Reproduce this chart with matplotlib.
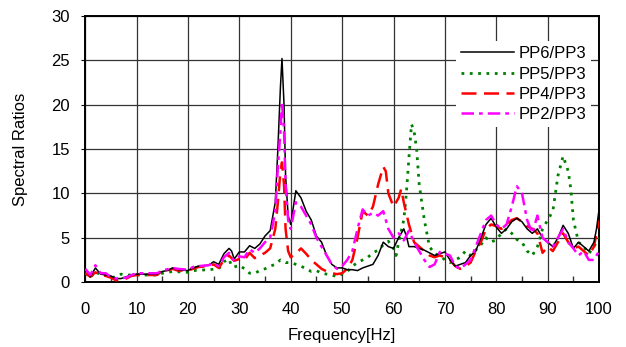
import matplotlib
matplotlib.use("Agg")
import matplotlib.pyplot as plt
from matplotlib.ticker import MultipleLocator

plt.rcParams['font.family'] = ['Liberation Sans', 'DejaVu Sans']

# ---------------------------------------------
# DATA
# ---------------------------------------------
f_pp6 = [0, 0.5, 1, 2, 3, 4, 5, 6, 7, 8, 9, 10, 12, 14, 15, 16, 17, 18, 20, 21, 22, 24, 25, 26,
         27, 28, 28.5, 29, 30, 31, 32, 33, 34, 35, 36, 37, 37.5, 38, 38.3, 38.7, 39, 39.5, 40,
         41, 42, 43, 44, 45, 46, 47, 48, 49, 50, 51, 52, 53, 54, 55, 56, 57, 58, 59, 60, 61,
         62, 62.5, 63, 64, 65, 66, 67, 68, 69, 70, 71, 72, 73, 74, 75, 76, 77, 78, 79, 80, 81,
         82, 83, 84, 85, 86, 87, 88, 89, 90, 91, 92, 93, 94, 95, 96, 97, 98, 99, 99.5, 100]
v_pp6 = [1.5, 1.2, 0.6, 1.6, 0.9, 0.8, 0.7, 0.4, 0.4, 0.6, 0.8, 0.9, 0.9, 0.9, 1.2, 1.3, 1.6, 1.4,
         1.3, 1.6, 1.8, 1.9, 2.3, 2.0, 3.2, 3.8, 3.5, 2.6, 3.4, 3.4, 4.1, 3.8, 4.3, 5.2, 5.8, 9.0,
         15.0, 22.0, 25.2, 20.0, 12.0, 7.5, 6.5, 10.3, 9.5, 8.0, 7.0, 5.2, 4.5, 3.0, 2.0, 1.6,
         1.6, 1.4, 1.4, 1.3, 1.6, 1.8, 2.0, 3.0, 4.5, 4.0, 3.8, 5.0, 6.0, 5.2, 4.0, 4.0, 3.8,
         3.6, 3.3, 3.0, 3.2, 3.4, 2.5, 1.8, 2.0, 2.2, 3.0, 3.5, 5.0, 6.5, 7.2, 6.2, 5.5, 6.0,
         6.8, 7.2, 6.8, 6.0, 5.5, 6.0, 5.0, 4.5, 4.0, 5.0, 6.4, 5.5, 3.8, 4.5, 4.0, 3.5, 4.5,
         6.0, 8.2]

f_pp5 = [0, 1, 2, 3, 4, 5, 6, 7, 8, 10, 14, 15, 17, 20, 21, 24, 26, 27, 28, 28.5, 29, 30, 31,
         32, 33, 34, 35, 36, 37, 38, 39, 40, 41, 42, 43, 44, 45, 46, 48, 49, 50, 51, 52, 53,
         54, 55, 56, 57, 58, 59, 60, 60.5, 61, 62, 62.5, 63, 63.5, 64, 64.5, 65, 66, 67, 68,
         69, 70, 71, 72, 73, 74, 75, 76, 77, 78, 79, 80, 81, 82, 83, 84, 85, 86, 87, 88, 89,
         90, 91, 92, 93, 94, 94.5, 95, 96, 97, 98, 99, 100]
v_pp5 = [1.0, 0.5, 1.2, 0.8, 0.8, 0.5, 0.6, 0.9, 0.8, 0.8, 0.8, 1.0, 1.2, 1.1, 1.3, 1.4, 1.5,
         2.3, 2.6, 1.8, 1.7, 1.9, 1.5, 1.0, 1.0, 1.3, 1.5, 1.8, 2.0, 2.5, 2.2, 2.2, 2.0, 1.8,
         1.5, 1.2, 1.3, 1.0, 0.8, 0.6, 0.9, 1.2, 1.8, 2.2, 2.5, 2.8, 3.3, 3.6, 4.2, 4.6, 3.8,
         3.0, 4.5, 7.0, 10.0, 14.0, 17.8, 17.0, 15.0, 11.0, 7.0, 4.0, 3.2, 3.0, 2.5, 2.2, 2.5,
         2.8, 3.5, 3.0, 3.6, 4.2, 5.0, 4.5, 4.8, 5.5, 6.0, 5.5, 4.8, 4.5, 3.5, 3.0, 4.0, 6.0,
         7.0, 8.0, 12.0, 14.2, 12.5, 10.5, 7.0, 4.5, 4.0, 3.2, 4.0, 5.0]

f_pp4 = [0, 1, 2, 3, 4, 5, 6, 7, 8, 9, 10, 14, 15, 16, 17, 18, 20, 21, 22, 24, 25, 26, 27, 28,
         29, 30, 31, 32, 33, 34, 35, 36, 37, 37.5, 38, 38.3, 38.7, 39, 39.5, 40, 41, 42, 43,
         44, 45, 46, 47, 48, 49, 50, 51, 52, 53, 54, 55, 56, 57, 58, 58.5, 59, 60, 61, 61.5,
         62, 63, 64, 65, 66, 67, 68, 69, 70, 71, 72, 73, 74, 75, 76, 77, 78, 79, 80, 81, 82,
         83, 84, 85, 86, 87, 88, 89, 90, 91, 92, 93, 94, 95, 96, 97, 98, 99, 100]
v_pp4 = [1.0, 0.6, 1.1, 0.8, 0.7, 0.5, 0.2, 0.3, 0.4, 0.7, 0.8, 0.8, 1.3, 1.3, 1.5, 1.3, 1.3,
         1.5, 1.7, 1.8, 2.0, 1.6, 2.5, 3.0, 2.4, 2.6, 2.5, 3.3, 2.7, 3.0, 3.3, 3.8, 6.0, 9.0,
         12.5, 13.5, 11.0, 6.0, 3.5, 2.8, 3.2, 3.8, 3.2, 2.5, 2.0, 1.5, 1.2, 1.0, 0.9, 1.0,
         1.5, 2.5, 5.0, 8.0, 7.5, 8.5, 11.0, 13.0, 12.5, 10.0, 8.5, 9.5, 10.5, 9.0, 6.5, 4.5,
         4.0, 3.5, 3.0, 2.8, 3.0, 2.8, 2.5, 1.8, 1.5, 1.8, 2.2, 3.5, 4.5, 6.0, 6.5, 6.3, 6.0,
         6.5, 7.0, 7.2, 6.8, 6.3, 6.0, 5.5, 3.3, 4.0, 3.5, 4.5, 5.5, 4.5, 3.8, 4.0, 3.5, 3.0,
         4.0, 7.0]

f_pp2 = [0, 1, 2, 3, 4, 5, 6, 8, 9, 10, 14, 15, 17, 18, 20, 21, 22, 24, 25, 26, 27, 28, 29,
         30, 31, 32, 33, 34, 35, 36, 37, 37.5, 38, 38.3, 38.7, 39, 39.5, 40, 41, 42, 43, 44,
         45, 46, 47, 48, 49, 50, 51, 52, 53, 54, 55, 56, 57, 58, 59, 60, 61, 62, 63, 64, 65,
         66, 67, 68, 69, 70, 71, 72, 73, 74, 75, 76, 77, 78, 79, 80, 81, 82, 83, 84, 85, 86,
         87, 88, 89, 90, 91, 92, 93, 94, 95, 96, 97, 98, 99, 100]
v_pp2 = [1.5, 0.8, 1.9, 1.0, 1.0, 0.6, 0.4, 0.5, 0.8, 1.0, 1.0, 1.3, 1.6, 1.5, 1.4, 1.7, 1.8,
         1.9, 2.1, 1.8, 2.8, 3.3, 2.4, 2.9, 2.8, 3.7, 3.3, 3.8, 4.5, 5.0, 8.0, 13.0, 17.0, 20.3,
         17.0, 11.0, 7.0, 6.0, 9.0, 8.5, 7.5, 6.5, 5.0, 4.0, 3.0, 2.0, 1.5, 1.8, 2.5, 3.5, 6.0,
         8.2, 7.5, 7.8, 7.5, 8.0, 6.0, 5.0, 5.5, 4.7, 5.8, 4.5, 3.5, 2.5, 1.7, 2.0, 3.4, 3.2,
         3.0, 1.8, 1.5, 2.0, 2.5, 4.0, 5.5, 7.0, 7.5, 6.5, 6.0, 6.5, 8.5, 10.8, 10.0, 7.0, 5.5,
         7.5, 5.0, 4.5, 4.0, 5.0, 6.0, 4.5, 3.8, 3.0, 3.5, 2.5, 2.5, 3.5]

labels = ['PP6/PP3', 'PP5/PP3', 'PP4/PP3', 'PP2/PP3']

# ---------------------------------------------
# FIGURE
# ---------------------------------------------
fig, ax = plt.subplots(figsize=(6.26, 3.47), dpi=100)
fig.subplots_adjust(left=0.136, right=0.957, top=0.954, bottom=0.187)

ax.plot(f_pp6, v_pp6, color='black', lw=1.1, ls='-', label=labels[0], zorder=5)
ax.plot(f_pp5, v_pp5, color='#008000', lw=2.0, ls=(0, (1, 2)), label=labels[1], zorder=3)
ax.plot(f_pp4, v_pp4, color='red', lw=1.8, ls=(0, (6, 3)), label=labels[2], zorder=4)
ax.plot(f_pp2, v_pp2, color='magenta', lw=1.8, ls=(0, (5, 2, 1.5, 2)), label=labels[3], zorder=6)

ax.set_xlim(0, 100)
ax.set_ylim(0, 30)
ax.xaxis.set_major_locator(MultipleLocator(10))
ax.xaxis.set_minor_locator(MultipleLocator(5))
ax.yaxis.set_major_locator(MultipleLocator(5))
ax.grid(True, which='major', color='#333333', lw=0.9)
ax.set_axisbelow(True)

ax.tick_params(axis='x', which='major', direction='in', length=0, labelsize=12, pad=14)
ax.tick_params(axis='x', which='minor', direction='in', length=4, width=1, color='#333333')
ax.tick_params(axis='y', which='major', direction='out', length=3, labelsize=12, pad=8)
for sp in ax.spines.values():
    sp.set_linewidth(1.4)

ax.set_xlabel('Frequency[Hz]', fontsize=12, labelpad=8)
ax.set_ylabel('Spectral Ratios', fontsize=12, labelpad=17)

leg = ax.legend(loc='upper right', bbox_to_anchor=(0.985, 0.905), fontsize=12,
                frameon=True, fancybox=False, framealpha=1, facecolor='white',
                edgecolor='none', handlelength=3.2, handletextpad=0.25,
                labelspacing=0.32, borderpad=0.3, borderaxespad=0)
leg.set_zorder(10)

plt.savefig('out.png', dpi=100)
plt.close()
